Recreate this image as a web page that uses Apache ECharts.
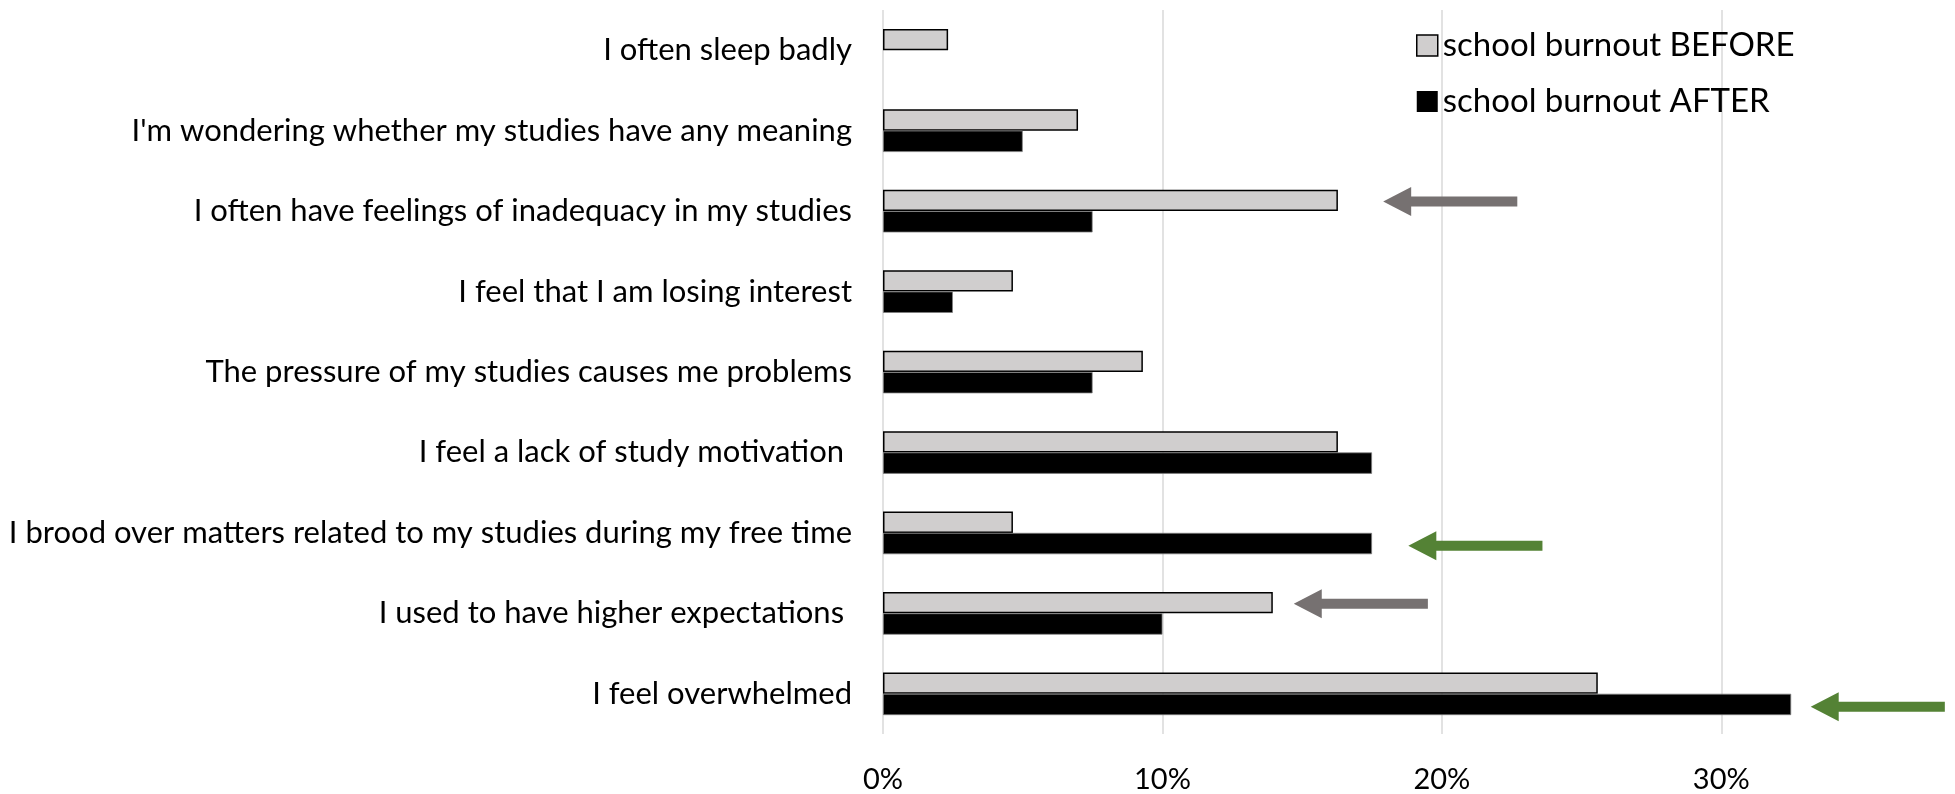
<!DOCTYPE html>
<html>
<head>
<meta charset="utf-8">
<script src="https://cdn.jsdelivr.net/npm/echarts@6/dist/echarts.min.js"></script>
<style>
  html, body { margin: 0; padding: 0; background: #fff; }
  #chart { width: 1955px; height: 794px; }
</style>
</head>
<body>
<div id="chart"></div>
<script>
// categories, top to bottom
const categories = [
  'I often sleep badly',
  "I'm wondering whether my studies have any meaning",
  'I often have feelings of inadequacy in my studies',
  'I feel that I am losing interest',
  'The pressure of my studies causes me problems',
  'I feel a lack of study motivation ',
  'I brood over matters related to my studies during my free time',
  'I used to have higher expectations ',
  'I feel overwhelmed'
]

// percent values
const before = [2.33, 6.98, 16.28, 4.65, 9.30, 16.28, 4.65, 13.95, 25.58]
const after = [0, 5.0, 7.5, 2.5, 7.5, 17.5, 17.5, 10.0, 32.5]

const xTicks = [0, 10, 20, 30]

// highlight arrows: category index, tip and tail in percent, which bar
const arrowCategory = [2, 6, 7, 8]
const arrowTip = [17.9, 18.8, 14.7, 33.2]
const arrowTail = [22.7, 23.6, 19.5, 38.0]
const arrowBar = ['before', 'after', 'before', 'after']

const colors = {
  before: '#d0cece',
  after: '#000000',
  grid: '#d9d9d9',
  text: '#000000',
  arrowBefore: '#767171',
  arrowAfter: '#548235'
}
const font = 'Lato, "Open Sans", sans-serif'

const arrowData = arrowCategory.map((c, i) => [arrowTip[i], arrowTail[i], c, arrowBar[i] === 'before' ? -1 : 1])

// a zero bar should not leave a border stub
const afterData = after.map(v => v === 0 ? { value: v, itemStyle: { borderWidth: 0 } } : v)

const renderArrow = (params, api) => {
  const cat = api.value(2)
  const side = api.value(3)
  const tip = api.coord([api.value(0), cat])
  const tail = api.coord([api.value(1), cat])
  const band = api.size([0, 1])[1]
  const y = tip[1] + (side < 0 ? -0.12 : 0.16) * band
  const x0 = tip[0], x1 = tail[0]
  const headLen = 28, headHalf = 14.5, shaftHalf = 5
  return {
    type: 'polygon',
    shape: {
      points: [
        [x0, y],
        [x0 + headLen, y - headHalf],
        [x0 + headLen, y - shaftHalf],
        [x1, y - shaftHalf],
        [x1, y + shaftHalf],
        [x0 + headLen, y + shaftHalf],
        [x0 + headLen, y + headHalf]
      ]
    },
    style: { fill: side < 0 ? colors.arrowBefore : colors.arrowAfter }
  }
}

const chart = echarts.init(document.getElementById('chart'))

chart.setOption({
  backgroundColor: '#fff',
  animation: false,
  textStyle: { fontFamily: font },
  grid: { left: 883, right: 94, top: 10, bottom: 59, containLabel: false },
  legend: {
    orient: 'vertical',
    left: 1411,
    top: 24,
    itemWidth: 21,
    itemHeight: 21,
    itemGap: 23,
    icon: 'rect',
    textStyle: { fontFamily: font, fontSize: 33, color: colors.text, padding: [0, 0, 0, 0] },
    data: [
      { name: 'school burnout BEFORE', itemStyle: { color: colors.before, borderColor: '#000', borderWidth: 1.5 } },
      { name: 'school burnout AFTER', itemStyle: { color: colors.after, borderWidth: 0 } }
    ]
  },
  xAxis: {
    type: 'value',
    min: xTicks[0],
    max: 35,
    interval: 10,
    axisLine: { show: false },
    axisTick: { show: false },
    splitLine: { showMaxLine: false, lineStyle: { color: colors.grid, width: 1.5 } },
    axisLabel: {
      formatter: '{value}%',
      fontFamily: font,
      fontSize: 29,
      color: colors.text,
      margin: 31,
      showMaxLabel: false
    }
  },
  yAxis: {
    type: 'category',
    inverse: true,
    data: categories,
    axisLine: { show: false },
    axisTick: { show: false },
    axisLabel: { fontFamily: font, fontSize: 31, color: colors.text, margin: 31 }
  },
  series: [
    {
      name: 'school burnout BEFORE',
      type: 'bar',
      data: before,
      barGap: '0%',
      barCategoryGap: '47%',
      itemStyle: { color: colors.before, borderColor: '#000', borderWidth: 1.5 }
    },
    {
      name: 'school burnout AFTER',
      type: 'bar',
      data: afterData,
      barGap: '0%',
      barCategoryGap: '47%',
      itemStyle: { color: colors.after, borderColor: '#7f7f7f', borderWidth: 0.75 }
    },
    {
      name: 'arrows',
      type: 'custom',
      clip: false,
      silent: true,
      renderItem: renderArrow,
      encode: { x: [0, 1], y: 2 },
      data: arrowData,
      z: 5
    }
  ]
})
</script>
</body>
</html>
